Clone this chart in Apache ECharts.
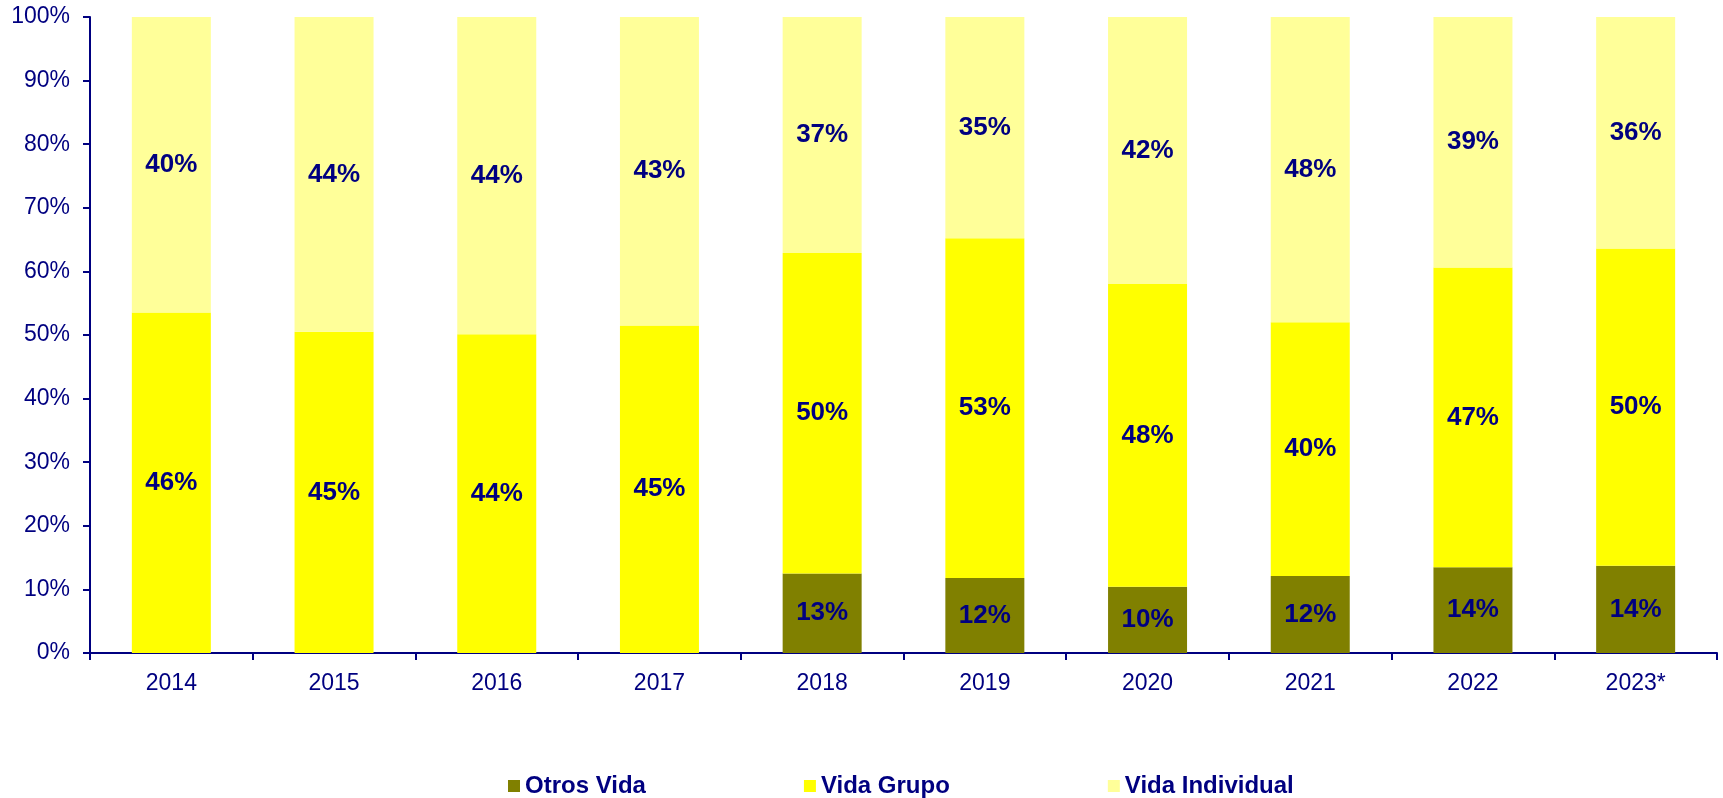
<!DOCTYPE html>
<html>
<head>
<meta charset="utf-8">
<script src="https://cdn.jsdelivr.net/npm/echarts@6/dist/echarts.min.js"></script>
<style>
    html, body { margin: 0; padding: 0; background: #fff; }
    #chart { width: 1723px; height: 798px; }
</style>
</head>
<body>
<div id="chart"></div>
<script>
var years = ['2014', '2015', '2016', '2017', '2018', '2019', '2020', '2021', '2022', '2023*'];
// shares (%) as shown in the labels, read with one decimal from bar heights
var otrosVida = [null, null, null, null, 12.5, 11.8, 10.4, 12.1, 13.5, 13.7];
var vidaGrupo = [46.2, 45.2, 44.1, 45.2, 50.4, 53.4, 47.6, 39.9, 47.1, 49.9];
var vidaIndividual = [40.1, 44.3, 43.9, 42.6, 37.1, 34.8, 42.0, 48.0, 39.4, 36.4];
var yTicks = [0, 10, 20, 30, 40, 50, 60, 70, 80, 90, 100];

var navy = '#000080';
var font = 'Arial, "Liberation Sans", sans-serif';

// bars are drawn as a 100% stack of the shown shares
function normalized(arr) {
    return arr.map(function (v, i) {
        if (v == null) return null;
        var total = (otrosVida[i] || 0) + (vidaGrupo[i] || 0) + (vidaIndividual[i] || 0);
        return { value: v / total * 100, raw: v };
    });
}

function makeSeries(name, arr, color) {
    return {
        name: name,
        type: 'bar',
        stack: 'total',
        barWidth: 79,
        itemStyle: { color: color },
        label: {
            show: true,
            position: 'inside',
            color: navy,
            fontFamily: font,
            fontWeight: 'bold',
            fontSize: 26,
            formatter: function (p) {
                return Math.round(p.data.raw) + '%';
            }
        },
        data: normalized(arr)
    };
}

var myChart = echarts.init(document.getElementById('chart'));
var option = {
    backgroundColor: '#fff',
    animation: false,
    grid: { left: 90, right: 6, top: 17, bottom: 145 },
    legend: {
        top: 769,
        left: 503,
        itemWidth: 12,
        itemHeight: 12,
        itemGap: 158,
        icon: 'rect',
        textStyle: {
            color: navy,
            fontFamily: font,
            fontWeight: 'bold',
            fontSize: 24
        },
        data: ['Otros Vida', 'Vida Grupo', 'Vida Individual']
    },
    xAxis: {
        type: 'category',
        data: years,
        axisLine: { lineStyle: { color: navy, width: 2 } },
        axisTick: { show: true, length: 7, lineStyle: { color: navy, width: 2 } },
        axisLabel: {
            color: navy,
            fontFamily: font,
            fontSize: 23,
            margin: 19
        }
    },
    yAxis: {
        type: 'value',
        min: yTicks[0],
        max: yTicks[yTicks.length - 1],
        interval: 10,
        axisLine: { show: true, lineStyle: { color: navy, width: 2 } },
        axisTick: { show: true, length: 7, lineStyle: { color: navy, width: 2 } },
        splitLine: { show: false },
        axisLabel: {
            color: navy,
            fontFamily: font,
            fontSize: 23,
            margin: 20,
            formatter: '{value}%'
        }
    },
    series: [
        makeSeries('Otros Vida', otrosVida, '#808000'),
        makeSeries('Vida Grupo', vidaGrupo, '#FFFF00'),
        makeSeries('Vida Individual', vidaIndividual, '#FFFF99')
    ]
};
myChart.setOption(option);
</script>
</body>
</html>
